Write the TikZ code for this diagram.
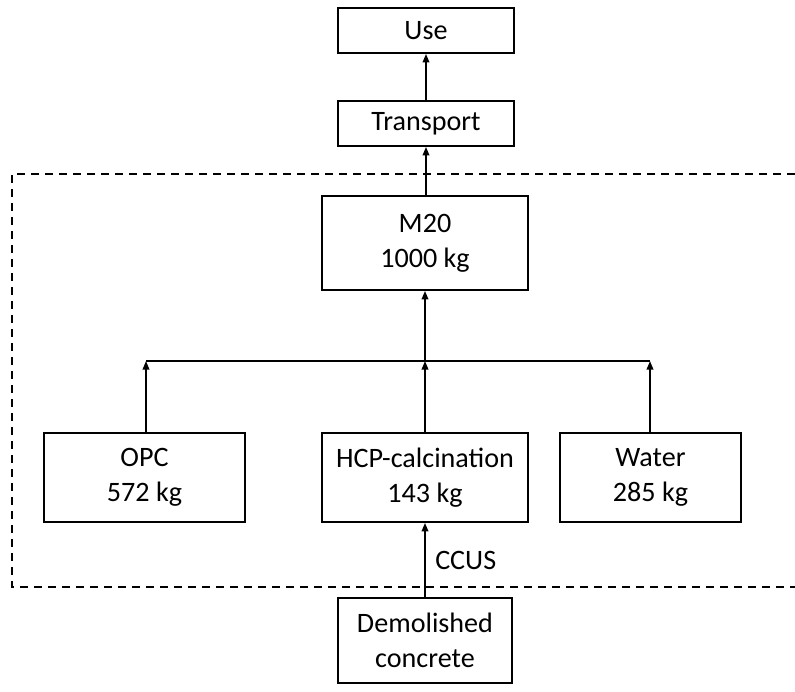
\documentclass[tikz,border=0pt]{standalone}
\usepackage{fontspec}
\setmainfont{Carlito}
\usetikzlibrary{positioning, arrows.meta, calc}

\begin{document}
\begin{tikzpicture}[
    >={Triangle[length=1.7mm, width=1.3mm]},
    font=\fontsize{16}{20}\selectfont,
    line width=1pt,
    box/.style={
        rectangle,
        draw=black,
        line width=1pt,
        align=center,
        inner sep=2pt
    },
    smallbox/.style={box, minimum width=3.52cm, minimum height=0.9cm},
    inbox/.style={box, minimum height=1.78cm},
    boundary/.style={dash pattern=on 1.6mm off 1.2mm, line width=1pt}
]
    \useasboundingbox (0,0) rectangle (15.9,-13.82);

    % Top chain
    \node[smallbox] (use) at (8.52, -0.61) {Use};
    \node[smallbox] (transport) at (8.52, -2.47) {Transport};

    % Product
    \node[box, minimum width=4.12cm, minimum height=1.88cm] (m20) at (8.5, -4.86) {M20\\1000 kg};

    % Inputs
    \node[inbox, minimum width=4.02cm] (opc) at (2.89, -9.55) {OPC\\572 kg};
    \node[inbox, minimum width=4.12cm] (hcp) at (8.5, -9.55) {HCP-calcination\\143 kg};
    \node[inbox, minimum width=3.62cm] (water) at (13.01, -9.55) {Water\\285 kg};

    % Source outside the boundary
    \node[box, minimum width=3.48cm, minimum height=1.7cm] (demol) at (8.5, -12.81) {Demolished\\concrete};

    % Collector line
    \coordinate (busL) at (2.92, -7.22);
    \coordinate (bus) at (8.5, -7.22);
    \coordinate (busR) at (13.0, -7.22);

    % System boundary (open on the right)
    \coordinate (bndTR) at (15.9, -3.48);
    \coordinate (bndTL) at (0.24, -3.48);
    \coordinate (bndBL) at (0.24, -11.74);
    \coordinate (bndBR) at (15.9, -11.74);
    \draw[boundary] (bndTR) -- (bndTL) -- (bndBL) -- (bndBR);

    % Flows
    \draw (busL) -- (busR);
    \draw[->] (opc.north -| busL) -- (busL);
    \draw[->] (hcp.north) -- (bus);
    \draw[->] (water.north -| busR) -- (busR);
    \draw[->] (bus) -- (m20.south);
    \draw[->] (m20.north -| transport) -- (transport.south);
    \draw[->] (transport) -- (use);
    \draw[->] (demol.north) -- node[right, xshift=2pt] {CCUS} (hcp.south);

\end{tikzpicture}
\end{document}
